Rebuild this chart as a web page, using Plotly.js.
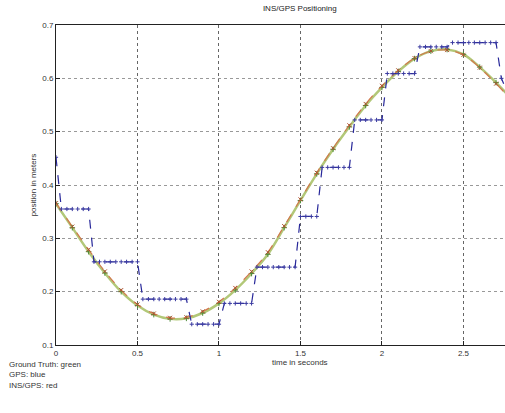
<!DOCTYPE html>
<html>
<head>
<meta charset="utf-8">
<script src="https://cdn.plot.ly/plotly-3.0.1.min.js"></script>
<style>html,body{margin:0;padding:0;background:#fff;}#chart{width:505px;height:413px;}</style>
</head>
<body>
<div id="chart"></div>
<script>
// Ground truth (green)
const truthTime = [0,0.1,0.2,0.3,0.4,0.5,0.6,0.7,0.8,0.9,1.0,1.1,1.2,1.3,1.4,1.5,1.6,1.7,1.8,1.9,2.0,2.1,2.2,2.3,2.4,2.5,2.6,2.7,2.8];
const truthPos  = [0.365,0.320,0.275,0.235,0.200,0.174,0.157,0.149,0.150,0.160,0.178,0.203,0.234,0.270,0.320,0.371,0.421,0.467,0.509,0.549,0.583,0.613,0.637,0.651,0.654,0.645,0.621,0.592,0.560];
// INS/GPS estimate (red)
const insTime = [0,0.1,0.2,0.3,0.4,0.5,0.6,0.7,0.8,0.9,1.0,1.1,1.2,1.3,1.4,1.5,1.6,1.7,1.8,1.9,2.0,2.1,2.2,2.3,2.4,2.5,2.6,2.7,2.8];
const insPos  = [0.366,0.322,0.279,0.238,0.203,0.176,0.159,0.151,0.152,0.163,0.181,0.207,0.238,0.274,0.323,0.373,0.423,0.469,0.512,0.552,0.586,0.615,0.638,0.651,0.653,0.644,0.620,0.590,0.558];
// GPS samples (blue), held values
const gpsTime = [0,0.033,0.067,0.1,0.133,0.167,0.2,0.233,0.267,0.3,0.333,0.367,0.4,0.433,0.467,0.5,0.533,0.567,0.6,0.633,0.667,0.7,0.733,0.767,0.8,0.833,0.867,0.9,0.933,0.967,1,1.033,1.067,1.1,1.133,1.167,1.2,1.233,1.267,1.3,1.333,1.367,1.4,1.433,1.467,1.5,1.533,1.567,1.6,1.633,1.667,1.7,1.733,1.767,1.8,1.833,1.867,1.9,1.933,1.967,2,2.033,2.067,2.1,2.133,2.167,2.2,2.233,2.267,2.3,2.333,2.367,2.4,2.433,2.467,2.5,2.533,2.567,2.6,2.633,2.667,2.7,2.733,2.767];
const gpsPos  = [0.452,
  0.355,0.355,0.355,0.355,0.355,0.355,
  0.256,0.256,0.256,0.256,0.256,0.256,0.256,0.256,0.256,
  0.186,0.186,0.186,0.186,0.186,0.186,0.186,0.186,0.186,
  0.139,0.139,0.139,0.139,0.139,0.139,
  0.178,0.178,0.178,0.178,0.178,0.178,
  0.246,0.246,0.246,0.246,0.246,0.246,0.246,0.246,
  0.341,0.341,0.341,0.341,
  0.433,0.433,0.433,0.433,0.433,0.433,
  0.522,0.522,0.522,0.522,0.522,0.522,
  0.609,0.609,0.609,0.609,0.609,0.609,
  0.659,0.659,0.659,0.659,0.659,0.659,
  0.667,0.667,0.667,0.667,0.667,0.667,0.667,0.667,0.667,
  0.600,0.575];
const xTicks = [0,0.5,1,1.5,2,2.5];
const xTickText = ["0","0.5","1","1.5","2","2.5"];
const yTicks = [0.1,0.2,0.3,0.4,0.5,0.6,0.7];
const yTickText = ["0.1","0.2","0.3","0.4","0.5","0.6","0.7"];

const traces = [
  {x: truthTime, y: truthPos, type:'scatter', mode:'lines+markers', name:'Ground truth',
   line:{color:'#b2c878', width:2.5, shape:'spline'},
   marker:{symbol:'cross-thin', size:4, line:{color:'#4f8a3a', width:1}}},
  {x: insTime, y: insPos, type:'scatter', mode:'lines+markers', name:'INS/GPS',
   line:{color:'#d2784e', width:1.2, dash:'dash', shape:'spline'},
   marker:{symbol:'x-thin', size:4, line:{color:'#b05030', width:1}}},
  {x: gpsTime, y: gpsPos, type:'scatter', mode:'lines+markers', name:'GPS',
   line:{color:'#28289a', width:1.2, dash:'dash'},
   marker:{symbol:'cross-thin', size:3, line:{color:'#3a3aa0', width:1}}}
];

const font = {family:'Liberation Sans, Arial, sans-serif', size:8, color:'#333'};
const layout = {
  width:505, height:413,
  margin:{l:56, r:0, t:25, b:68},
  paper_bgcolor:'#fff', plot_bgcolor:'#fff',
  showlegend:false,
  font: font,
  title:{text:'INS/GPS Positioning', x:0.543, xref:'paper', y:0.988, yanchor:'top', font:{family:'Liberation Sans, Arial, sans-serif', size:8, color:'#222'}},
  xaxis:{range:[0,2.755], tickvals:xTicks, ticktext:xTickText, ticks:'inside', ticklen:4, tickcolor:'#222',
         showline:true, linecolor:'#222', linewidth:1, mirror:true, zeroline:false,
         showgrid:true, gridcolor:'#666', griddash:'dot', gridwidth:1, tickfont:font},
  yaxis:{range:[0.1,0.7], tickvals:yTicks, ticktext:yTickText, ticks:'inside', ticklen:4, tickcolor:'#222',
         showline:true, linecolor:'#222', linewidth:1, zeroline:false,
         showgrid:true, gridcolor:'#999', griddash:'dot', gridwidth:1, tickfont:font,
         title:{text:'position in meters', standoff:4, font:font}},
  annotations:[
    {text:'time in seconds', xref:'paper', yref:'paper', x:0.543, y:-0.035, yanchor:'top', showarrow:false, font:font},
    {text:'Ground Truth: green<br>GPS: blue<br>INS/GPS: red', xref:'paper', yref:'paper', x:-0.11, xanchor:'left', y:-0.04, yanchor:'top', align:'left', showarrow:false,
     font:{family:'Liberation Sans, Arial, sans-serif', size:8, color:'#333'}}
  ]
};
Plotly.newPlot('chart', traces, layout, {displayModeBar:false, staticPlot:true});
</script>
</body>
</html>
